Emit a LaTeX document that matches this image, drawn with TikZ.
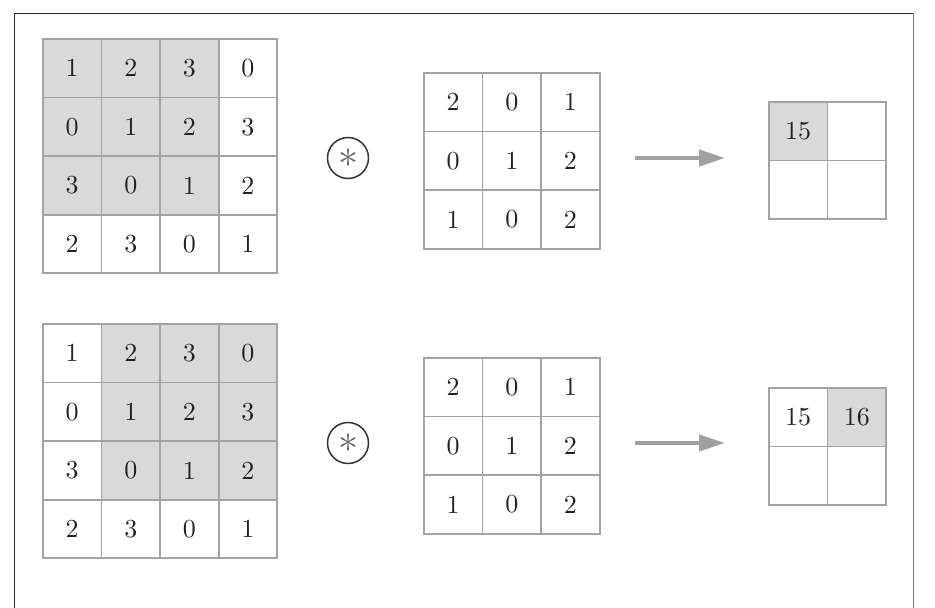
\RequirePackage{fix-cm}
\documentclass[tikz,border=0pt]{standalone}
\usepackage{fontspec}
\newfontfamily\numfont{lmroman10-regular.otf}
\usetikzlibrary{arrows.meta,backgrounds}
\definecolor{gridgray}{HTML}{A3A3A3}
\definecolor{cellfill}{HTML}{D9D9D9}
\definecolor{numcol}{HTML}{222222}
\definecolor{arrowgray}{HTML}{A0A0A0}
\begin{document}
\begin{tikzpicture}[x=1pt,y=-1pt,
  cell/.style={draw=gridgray, line width=1.7pt, minimum size=58.6pt, inner sep=0pt,
               anchor=north west, font=\numfont\fontsize{26}{30}\selectfont, text=numcol},
  opcirc/.style={circle, draw=black!80, line width=1.5pt, minimum size=41pt, inner sep=0pt,
                 text=black!60, font=\fontsize{40}{40}\selectfont},
  bigarrow/.style={draw=arrowgray, line width=4.5pt,
                   -{Triangle[length=26pt,width=16pt]}},
  frame/.style={line width=1pt}]
\useasboundingbox (0,0) rectangle (935,608);

% frame
\draw[frame, black!85] (14,608) -- (14,13) -- (913,13);
\draw[frame, black!50] (913,13) -- (913,608);

% ---------- top row ----------
\foreach \r/\row in {1/{1,2,3,0},2/{0,1,2,3},3/{3,0,1,2},4/{2,3,0,1}} {
  \foreach \v [count=\c] in \row {
    \node[cell] (A\r\c) at ({42+(\c-1)*58.6},{38+(\r-1)*58.6}) {\v};
  }
}
\foreach \r/\row in {1/{2,0,1},2/{0,1,2},3/{1,0,2}} {
  \foreach \v [count=\c] in \row {
    \node[cell] (K\r\c) at ({423+(\c-1)*58.6},{72+(\r-1)*58.6}) {\v};
  }
}
\node[cell] (O11) at (768,101) {15};
\node[cell] (O12) at (826.6,101) {};
\node[cell] (O21) at (768,159.6) {};
\node[cell] (O22) at (826.6,159.6) {};
\begin{scope}[on background layer]
  \fill[cellfill] (A11.north west) rectangle (A33.south east);
  \fill[cellfill] (O11.north west) rectangle (O11.south east);
\end{scope}
\node[opcirc] (op1) at (348,158) {$\ast$};
\coordinate (s1) at ([xshift=34pt]K23.east);
\coordinate (e1) at ([xshift=-43pt]O11.south west);
\draw[bigarrow] (s1 |- op1) -- (e1 |- op1) ;

% ---------- bottom row ----------
\foreach \r/\row in {1/{1,2,3,0},2/{0,1,2,3},3/{3,0,1,2},4/{2,3,0,1}} {
  \foreach \v [count=\c] in \row {
    \node[cell] (B\r\c) at ({42+(\c-1)*58.6},{323+(\r-1)*58.6}) {\v};
  }
}
\foreach \r/\row in {1/{2,0,1},2/{0,1,2},3/{1,0,2}} {
  \foreach \v [count=\c] in \row {
    \node[cell] (L\r\c) at ({423+(\c-1)*58.6},{357+(\r-1)*58.6}) {\v};
  }
}
\node[cell] (P11) at (768,387) {15};
\node[cell] (P12) at (826.6,387) {16};
\node[cell] (P21) at (768,445.6) {};
\node[cell] (P22) at (826.6,445.6) {};
\begin{scope}[on background layer]
  \fill[cellfill] (B12.north west) rectangle (B34.south east);
  \fill[cellfill] (P12.north west) rectangle (P12.south east);
\end{scope}
\node[opcirc] (op2) at (348,443) {$\ast$};
\coordinate (s2) at ([xshift=34pt]L23.east);
\coordinate (e2) at ([xshift=-43pt]P11.south west);
\draw[bigarrow] (s2 |- op2) -- (e2 |- op2);
\end{tikzpicture}
\end{document}
